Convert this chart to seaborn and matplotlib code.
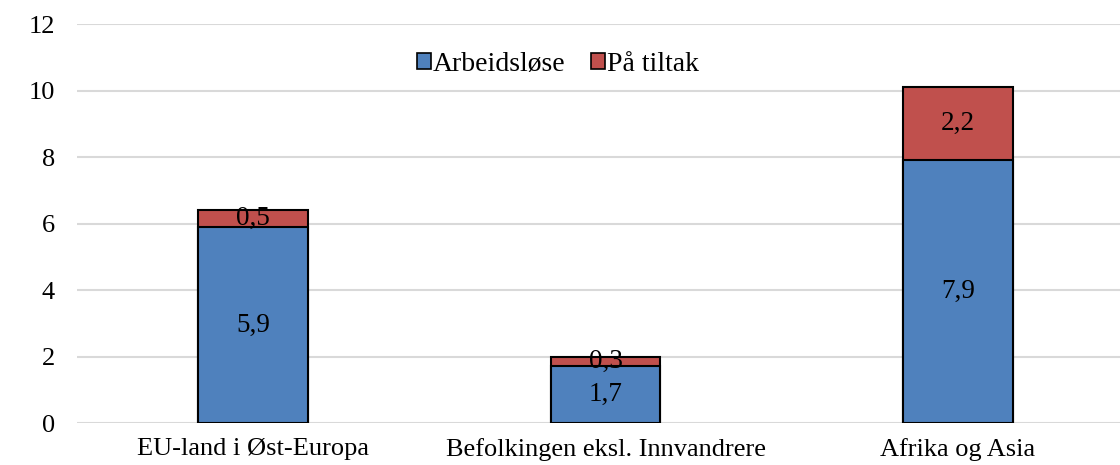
import matplotlib
matplotlib.use("Agg")
import matplotlib.pyplot as plt
import seaborn as sns
import pandas as pd
from matplotlib.patches import Patch

categories = ["EU-land i Øst-Europa", "Befolkingen eksl. Innvandrere", "Afrika og Asia"]
arbeidslose = [5.9, 1.7, 7.9]
paa_tiltak = [0.5, 0.3, 2.2]
yticks = [0, 2, 4, 6, 8, 10, 12]

BLUE = "#4F81BD"
RED = "#C0504D"

sns.set_theme(style="white")
plt.rcParams["font.family"] = ["Liberation Serif", "DejaVu Serif"]
plt.rcParams["text.color"] = "black"

df = pd.DataFrame({
    "kategori": categories,
    "Arbeidsløse": arbeidslose,
    "På tiltak": paa_tiltak,
})
df["total"] = df["Arbeidsløse"] + df["På tiltak"]

fig = plt.figure(figsize=(11.2, 4.65), dpi=100)
ax = fig.add_axes([77 / 1120, 1 - 423 / 465, (1134 - 77) / 1120, (423 - 24) / 465])

sns.barplot(data=df, x="kategori", y="total", color=RED, width=0.312,
            edgecolor="black", linewidth=1.5, saturation=1, ax=ax, zorder=3)
sns.barplot(data=df, x="kategori", y="Arbeidsløse", color=BLUE, width=0.312,
            edgecolor="black", linewidth=1.5, saturation=1, ax=ax, zorder=3)

red_bars = ax.patches[:3]
blue_bars = ax.patches[3:6]

def fmt(v):
    return f"{v:.1f}".replace(".", ",")

for bar, v in zip(blue_bars, arbeidslose):
    ax.text(bar.get_x() + bar.get_width() / 2, bar.get_height() / 2, fmt(v),
            ha="center", va="center", fontsize=19.5, color="black", zorder=5)
for bar, bb, v in zip(red_bars, blue_bars, paa_tiltak):
    ax.text(bar.get_x() + bar.get_width() / 2, bb.get_height() + v / 2, fmt(v),
            ha="center", va="center", fontsize=19.5, color="black", zorder=5)

ax.set_ylim(0, 12)
ax.set_xlim(-0.5, 2.5)
ax.set_yticks(yticks)
ax.set_yticklabels([str(t) for t in yticks])
ax.yaxis.grid(True, color="#D9D9D9", linewidth=1.5, zorder=0)
ax.set_axisbelow(True)
for s in ax.spines.values():
    s.set_visible(False)
ax.tick_params(axis="y", length=0, pad=16, labelsize=19, labelcolor="black")
ax.tick_params(axis="x", length=0, pad=11, labelsize=19, labelcolor="black")
ax.set_xlabel("")
ax.set_ylabel("")

handles = [Patch(facecolor=BLUE, edgecolor="black", linewidth=1.2, label="Arbeidsløse"),
           Patch(facecolor=RED, edgecolor="black", linewidth=1.2, label="På tiltak")]
fig.legend(handles=handles, loc="center", bbox_to_anchor=(558 / 1120, 1 - 64 / 465),
           ncol=2, frameon=False, fontsize=20, handlelength=0.5, handleheight=0.5,
           handletextpad=0.07, columnspacing=0.9, labelcolor="black")

fig.savefig("out.png", dpi=100)
